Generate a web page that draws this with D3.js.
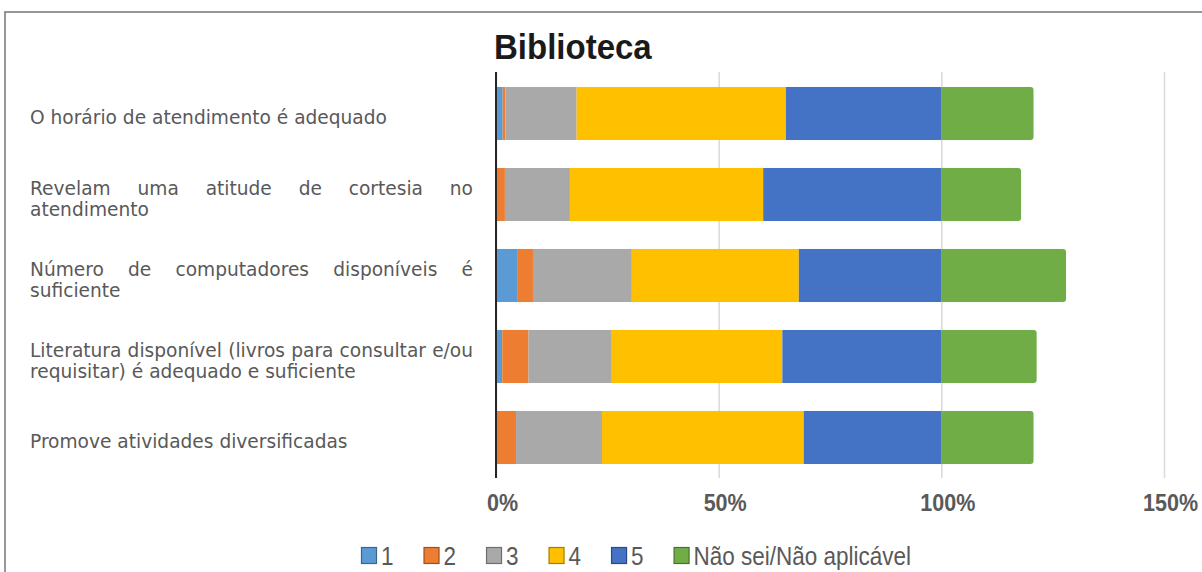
<!DOCTYPE html>
<html>
<head>
<meta charset="utf-8">
<script src="https://cdn.jsdelivr.net/npm/d3@7"></script>
<style>
  body { margin: 0; background: #fff; }
  svg { display: block; }
</style>
</head>
<body>
<div id="chart"></div>
<script>
// categorias (quebra de linha como no original)
var categories = [
    "O horário de atendimento é adequado",
    "Revelam uma atitude de cortesia no\natendimento",
    "Número de computadores disponíveis é\nsuficiente",
    "Literatura disponível (livros para consultar e/ou\nrequisitar) é adequado e suficiente",
    "Promove atividades diversificadas"
];
var seriesNames = ["1", "2", "3", "4", "5", "Não sei/Não aplicável"];
var v1 = [1.5, 0, 4.9, 1.4, 0];
var v2 = [0.6, 2.0, 3.4, 5.9, 4.5];
var v3 = [16.0, 14.6, 22.2, 18.7, 19.3];
var v4 = [47.0, 43.4, 37.5, 38.3, 45.3];
var v5 = [34.9, 40.0, 32.0, 35.7, 30.9];
var vNs = [20.7, 17.9, 28.0, 21.4, 20.7];
var tickValues = [0, 50, 100, 150];
var colors = ["#5B9BD5", "#ED7D31", "#A9A9A9", "#FFC000", "#4472C4", "#70AD47"];

var width = 1202;
var height = 572;
var arial = '"Liberation Sans", Arial, sans-serif';

var svg = d3.select('#chart')
    .append('svg')
    .attr('width', width)
    .attr('height', height);

// moldura
svg.append('path')
    .attr('d', 'M5,' + height + 'L5,12L' + width + ',12')
    .attr('fill', 'none')
    .attr('stroke', '#767676')
    .attr('stroke-width', 1.5);

var x = d3.scaleLinear()
    .domain([0, 150])
    .range([496, 1164]);

var y = d3.scaleBand()
    .domain(categories)
    .range([73, 478])
    .paddingInner(0.345)
    .paddingOuter(0.1725);

// grelha + rótulos do eixo
var xAxis = d3.axisBottom(x)
    .tickValues(tickValues)
    .tickSize(-406)
    .tickFormat(d => d + '%');

var gx = svg.append('g')
    .attr('transform', 'translate(0,478)')
    .call(xAxis);
gx.select('.domain').remove();
gx.selectAll('line').attr('stroke', '#d9d9d9').attr('stroke-width', 1.5);
gx.selectAll('text')
    .attr('x', 6)
    .attr('y', 0)
    .attr('dy', 0)
    .attr('transform', 'translate(0,33) scale(1,1.13)')
    .attr('fill', '#595959')
    .style('font-family', arial)
    .style('font-weight', 'bold')
    .style('font-size', '21.5px');

// empilhar
var table = categories.map((c, i) => ({
    cat: c, s0: v1[i], s1: v2[i], s2: v3[i], s3: v4[i], s4: v5[i], s5: vNs[i]
}));
var stack = d3.stack().keys(['s0', 's1', 's2', 's3', 's4', 's5']);
var layers = stack(table);

layers.forEach((layer, k) => {
    var g = svg.append('g').attr('fill', colors[k]);
    if (k < 5) {
        g.selectAll('rect')
            .data(layer)
            .enter()
            .append('rect')
            .attr('x', d => x(d[0]))
            .attr('y', d => y(d.data.cat))
            .attr('width', d => x(d[1]) - x(d[0]))
            .attr('height', y.bandwidth());
    } else {
        // última série com cantos arredondados à direita
        g.selectAll('rect.r')
            .data(layer)
            .enter()
            .append('rect')
            .attr('x', d => x(d[0]))
            .attr('y', d => y(d.data.cat))
            .attr('width', d => x(d[1]) - x(d[0]))
            .attr('height', y.bandwidth())
            .attr('rx', 3);
        g.selectAll('rect.sq')
            .data(layer)
            .enter()
            .append('rect')
            .attr('x', d => x(d[0]))
            .attr('y', d => y(d.data.cat))
            .attr('width', d => x(d[1]) - x(d[0]) - 4)
            .attr('height', y.bandwidth());
    }
});

// eixo vertical
svg.append('line')
    .attr('x1', x(0)).attr('x2', x(0))
    .attr('y1', 72).attr('y2', 478)
    .attr('stroke', '#262626')
    .attr('stroke-width', 2);

// rótulos das categorias (justificados)
var labelLeft = 30, labelRight = 473, lineH = 21;
var labels = svg.append('g')
    .style('font-family', '"DejaVu Sans", Verdana, sans-serif')
    .style('font-size', '18.6px')
    .attr('fill', '#595959');

categories.forEach(c => {
    var lines = c.split('\n');
    var cy = y(c) + y.bandwidth() / 2;
    lines.forEach((ln, li) => {
        var base = cy + 10.5 + (li - (lines.length - 1) / 2) * lineH;
        var justify = li < lines.length - 1;
        if (!justify) {
            labels.append('text').attr('x', labelLeft).attr('y', base).text(ln);
            return;
        }
        var words = ln.split(' ');
        var nodes = words.map(w => labels.append('text').attr('y', base).text(w));
        var widths = nodes.map(n => n.node().getComputedTextLength());
        var gap = (labelRight - labelLeft - d3.sum(widths)) / (words.length - 1);
        var cx = labelLeft;
        nodes.forEach((n, i) => {
            n.attr('x', cx);
            cx += widths[i] + gap;
        });
    });
});

// título
svg.append('text')
    .attr('transform', 'translate(494,59) scale(1,1.06)')
    .attr('fill', '#1a1a1a')
    .style('font-family', arial)
    .style('font-weight', 'bold')
    .style('font-size', '33px')
    .text('Biblioteca');

// legenda
var legend = svg.append('g')
    .style('font-family', arial)
    .style('font-size', '22.5px')
    .attr('fill', '#595959');
var lx = 361;
seriesNames.forEach((s, i) => {
    legend.append('rect')
        .attr('x', lx + 0.5)
        .attr('y', 547.5)
        .attr('width', 15)
        .attr('height', 16)
        .attr('fill', colors[i])
        .attr('stroke', d3.color(colors[i]).darker(1.2))
        .attr('stroke-width', 1.2);
    var t = legend.append('text')
        .attr('transform', 'translate(' + (lx + 20) + ',565) scale(1,1.15)')
        .text(s);
    lx += 20 + t.node().getComputedTextLength() + 30;
});
</script>
</body>
</html>
